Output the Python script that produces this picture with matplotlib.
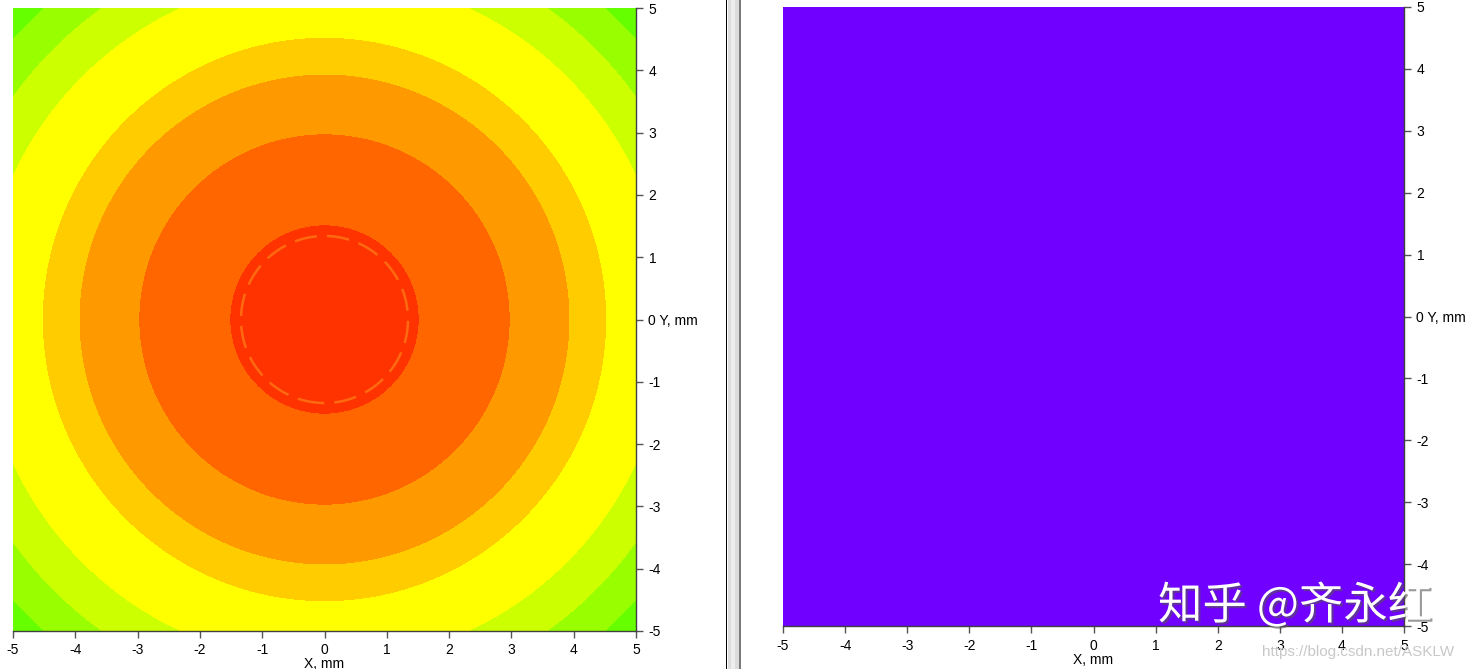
import numpy as np
import matplotlib
matplotlib.use("Agg")
import matplotlib.pyplot as plt
from matplotlib.patches import Rectangle
import matplotlib.patheffects as pe

# ---- data ----
# radial contour boundaries (mm) of the left map, inner to outer
level_radii = [1.52, 2.98, 3.94, 4.53, 5.52, 6.16, 6.74]
level_colors = ['#FF3300', '#FF6600', '#FF9900', '#FFCC00', '#FFFF00',
                '#CCFF00', '#99FF00', '#66FF00']
inner_ring_radius = [1.34]          # dashed artefact ring inside the core
right_color = '#7000FF'             # uniform right map
ticks = [-5, -4, -3, -2, -1, 0, 1, 2, 3, 4, 5]
xlabel = "X, mm"
ylabel = "Y, mm"
watermark = "知乎 @齐永红"
url_mark = "https://blog.csdn.net/ASKLW"

W, H = 1475, 669
fig = plt.figure(figsize=(W / 100, H / 100), dpi=100)
plt.rcParams['font.family'] = ['Liberation Sans', 'DejaVu Sans']

def px_axes(l, t, r, b):
    return fig.add_axes([l / W, 1 - b / H, (r - l) / W, (b - t) / H])

ax1 = px_axes(13, 8, 636, 631)
ax2 = px_axes(783, 7, 1404, 626)

g = np.linspace(-5, 5, 801)
X, Y = np.meshgrid(g, g)
R = np.hypot(X, Y)
ax1.contourf(X, Y, R, levels=[0] + level_radii + [10], colors=level_colors)
ax1.contour(X, Y, R, levels=inner_ring_radius, colors='#FF6A10',
            linewidths=1.8, linestyles=[(0, (9, 4))])

ax2.add_patch(Rectangle((-5, -5), 10, 10, color=right_color, lw=0))

for ax in (ax1, ax2):
    ax.set_xlim(-5, 5)
    ax.set_ylim(-5, 5)
    ax.set_xticks(ticks)
    ax.set_yticks(ticks)
    ax.set_xticklabels([str(t) for t in ticks])
    ax.set_yticklabels([f"{t} {ylabel}" if t == 0 else str(t) for t in ticks])
    ax.yaxis.tick_right()
    ax.tick_params(axis='both', labelsize=10, color='#555555', length=5,
                   width=1, labelcolor='black')
    ax.tick_params(axis='x', pad=4)
    ax.tick_params(axis='y', pad=4)
    for s in ('top', 'left'):
        ax.spines[s].set_visible(False)
    for s in ('bottom', 'right'):
        ax.spines[s].set_color('#404040')
        ax.spines[s].set_linewidth(1.0)
    ax.set_xlabel(xlabel, fontsize=10, labelpad=0)

# separator between panels
fig.add_artist(Rectangle((726 / W, 0), 1.2 / W, 1, transform=fig.transFigure,
                         color='black', lw=0))
fig.add_artist(Rectangle((728 / W, 0), 12 / W, 1, transform=fig.transFigure,
                         color='#dcdcdc', lw=0))
fig.add_artist(Rectangle((731 / W, 0), 4 / W, 1, transform=fig.transFigure,
                         color='#eeeeee', lw=0))
fig.add_artist(Rectangle((739 / W, 0), 2 / W, 1, transform=fig.transFigure,
                         color='#7a7a7a', lw=0))

# watermarks
fig.text(1158 / W, 1 - 606 / H, watermark, fontsize=32, color='white',
         family=['Noto Sans CJK SC', 'DejaVu Sans'], va='center', ha='left',
         path_effects=[pe.withSimplePatchShadow(offset=(1.5, -1.5),
                                                shadow_rgbFace='#555555',
                                                alpha=0.6)])
fig.text(1262 / W, 1 - 652 / H, url_mark, fontsize=11, color='#c8c8c8',
         va='center', ha='left')

fig.savefig("out.png", dpi=100)
